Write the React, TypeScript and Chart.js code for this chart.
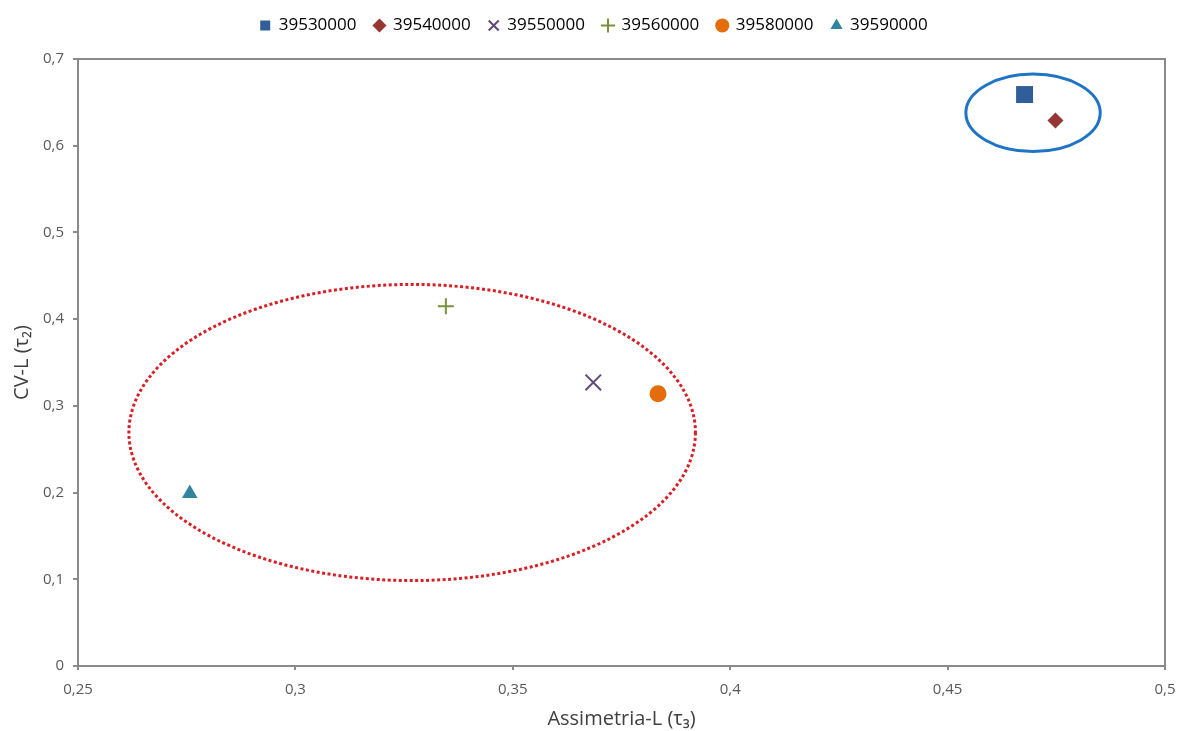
import React, { useEffect, useRef } from "react";
import { Chart, registerables } from "chart.js";

Chart.register(...registerables);

const seriesNames = ["39530000", "39540000", "39550000", "39560000", "39580000", "39590000"];
const xValues = [0.4677, 0.4748, 0.3685, 0.3346, 0.3834, 0.2757];
const yValues = [0.659, 0.629, 0.327, 0.415, 0.314, 0.199];
const seriesColors = ["#2F5E99", "#953735", "#604A7B", "#77933C", "#E46C0A", "#31859C"];
const seriesStyles = ["rect", "rectRot", "crossRot", "cross", "circle", "triangle"];
const seriesRadius = [12, 8, 11, 8, 8.5, 9];

// ellipse annotations in data units: [xMin, xMax, yMin, yMax]
const redEllipse = [0.2617, 0.392, 0.0985, 0.44];
const blueEllipse = [0.4542, 0.4851, 0.5933, 0.6826];

const fmt = (v: number) => {
  const r = Math.round(v * 100) / 100;
  return String(r).replace(".", ",");
};

const legendSpacing = {
  id: "legendSpacing",
  beforeInit(chart: any) {
    const orig = chart.legend.fit;
    chart.legend.fit = function () {
      orig.call(this);
      this.height += 15;
    };
  },
};

const ellipsePlugin = {
  id: "ellipses",
  afterDatasetsDraw(chart: any) {
    const { ctx, scales, chartArea } = chart;
    const x = scales.x;
    const y = scales.y;
    ctx.save();
    ctx.strokeStyle = "#8A8A8A";
    ctx.lineWidth = 2;
    ctx.beginPath();
    ctx.moveTo(chartArea.left, chartArea.top);
    ctx.lineTo(chartArea.right, chartArea.top);
    ctx.lineTo(chartArea.right, chartArea.bottom);
    ctx.stroke();
    ctx.restore();

    const draw = (e: number[], color: string, width: number, dash: number[]) => {
      const x1 = x.getPixelForValue(e[0]);
      const x2 = x.getPixelForValue(e[1]);
      const y1 = y.getPixelForValue(e[3]);
      const y2 = y.getPixelForValue(e[2]);
      ctx.save();
      ctx.strokeStyle = color;
      ctx.lineWidth = width;
      ctx.setLineDash(dash);
      ctx.beginPath();
      ctx.ellipse((x1 + x2) / 2, (y1 + y2) / 2, (x2 - x1) / 2, (y2 - y1) / 2, 0, 0, Math.PI * 2);
      ctx.stroke();
      ctx.restore();
    };
    draw(redEllipse, "#D91F26", 3, [3, 2.5]);
    draw(blueEllipse, "#1F74C4", 3, []);
  },
};

export default function App() {
  const ref = useRef<HTMLCanvasElement>(null);
  useEffect(() => {
    if (!ref.current) return;
    const datasets = seriesNames.map((name, i) => ({
      label: name,
      data: [{ x: xValues[i], y: yValues[i] }],
      pointStyle: seriesStyles[i] as any,
      pointRadius: seriesRadius[i],
      pointHoverRadius: seriesRadius[i],
      backgroundColor: seriesColors[i],
      borderColor: seriesColors[i],
      pointBorderWidth: seriesStyles[i].startsWith("cross") ? 2 : 0,
      borderWidth: seriesStyles[i].startsWith("cross") ? 2 : 0,
    }));
    const chart = new Chart(ref.current, {
      type: "scatter",
      data: { datasets },
      options: {
        animation: false,
        responsive: false,
        maintainAspectRatio: false,
        layout: { padding: { left: 10, right: 0, top: -1, bottom: 0 } },
        plugins: {
          tooltip: { enabled: false },
          legend: {
            position: "top",
            labels: {
              usePointStyle: true,
              boxWidth: 10,
              boxHeight: 10,
              padding: 18,
              color: "#000",
              font: { family: "Open Sans", size: 17 },
            },
          },
        },
        scales: {
          x: {
            type: "linear",
            min: 0.25,
            max: 0.5,
            afterFit: (s: any) => {
              s.paddingRight = 8;
            },
            ticks: {
              stepSize: 0.05,
              color: "#595959",
              font: { family: "Open Sans", size: 15 },
              callback: (v: any) => fmt(Number(v)),
              padding: 11,
            },
            grid: { display: true, drawOnChartArea: false, drawTicks: true, tickLength: 4, color: "#8A8A8A", lineWidth: 2 },
            border: { color: "#8A8A8A", width: 2 },
            title: {
              display: true,
              text: "Assimetria-L (τ₃)",
              color: "#404040",
              font: { family: "Open Sans", size: 20 },
              padding: { top: -3, bottom: 0 },
            },
          },
          y: {
            type: "linear",
            min: 0,
            max: 0.7,
            ticks: {
              stepSize: 0.1,
              color: "#595959",
              font: { family: "Open Sans", size: 15 },
              callback: (v: any) => fmt(Number(v)),
              padding: 9,
            },
            grid: { display: true, drawOnChartArea: false, drawTicks: true, tickLength: 5, color: "#8A8A8A", lineWidth: 2 },
            border: { color: "#8A8A8A", width: 2 },
            title: {
              display: true,
              text: "CV-L (τ₂)",
              color: "#404040",
              font: { family: "Open Sans", size: 20 },
              padding: { top: 0, bottom: 0 },
            },
          },
        },
      },
      plugins: [legendSpacing, ellipsePlugin],
    });
    return () => chart.destroy();
  }, []);
  return (
    <div style={{ position: "fixed", left: 0, top: 0, width: 1178, height: 731, background: "#fff" }}>
      <canvas ref={ref} width={1178} height={731} style={{ display: "block" }} />
    </div>
  );
}
